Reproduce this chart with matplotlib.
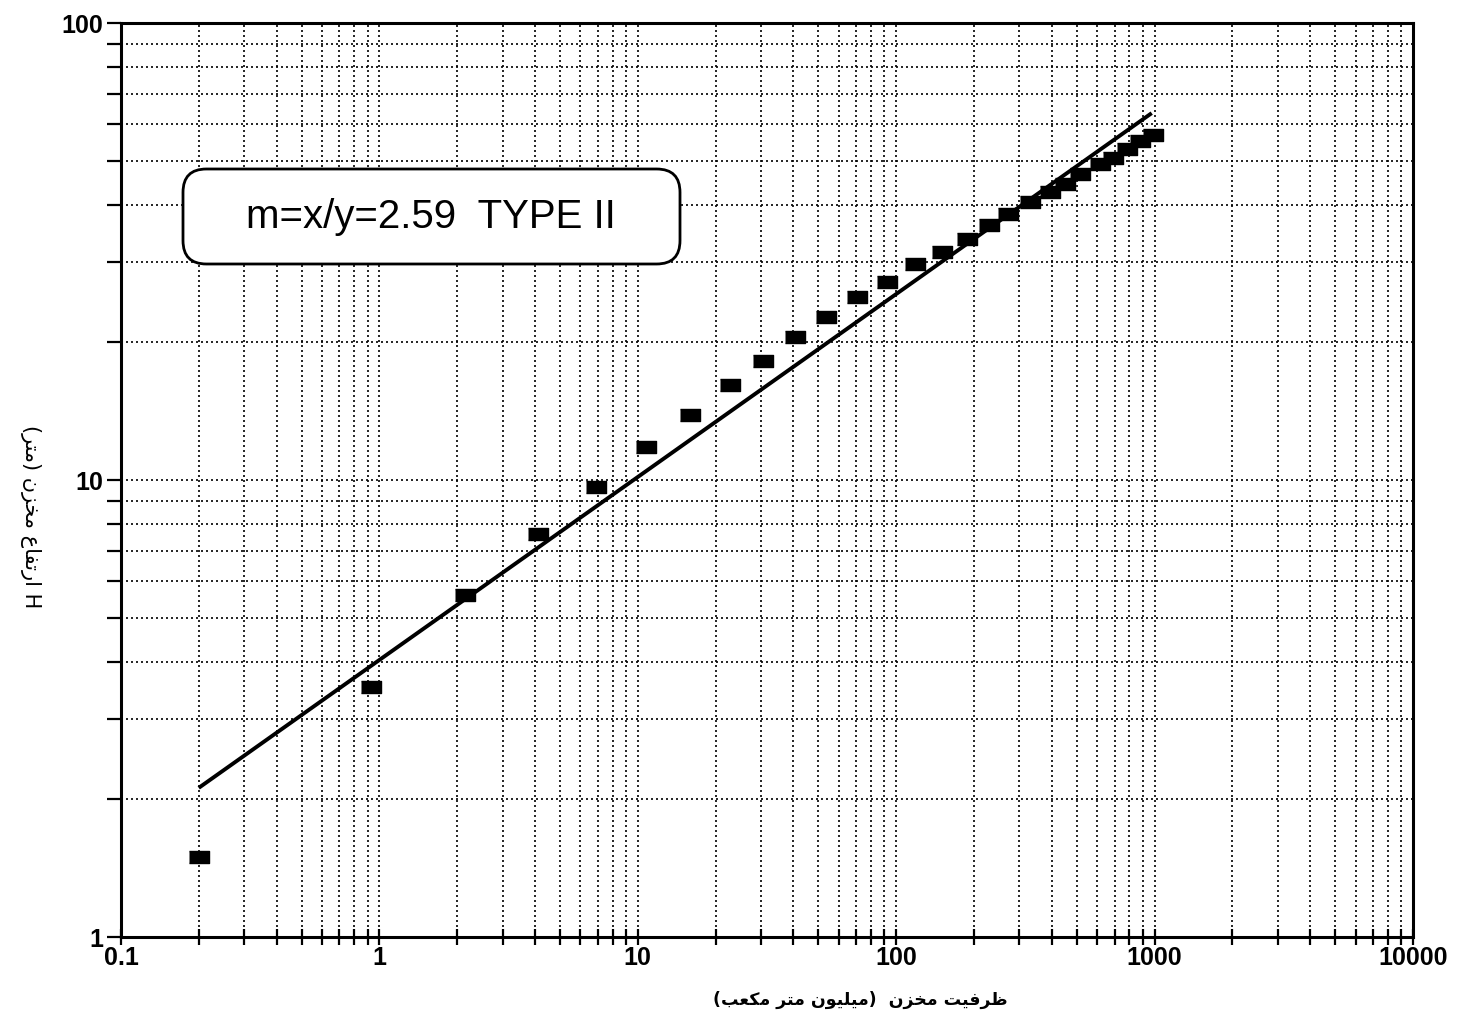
import matplotlib.pyplot as plt
from matplotlib.ticker import LogLocator, NullFormatter, FixedFormatter, FixedLocator
from matplotlib.patches import FancyBboxPatch

# reservoir capacity (million m3) vs reservoir height H (m)
capacity = [0.2, 0.93, 2.14, 4.1, 6.9, 10.8, 15.9, 22.7, 30.5, 40.6, 53.5,
            70.5, 92, 118, 150, 188, 229, 271, 330, 394, 450, 514, 615,
            690, 782, 879, 986]
height = [1.50, 3.52, 5.6, 7.6, 9.65, 11.8, 13.9, 16.1, 18.2, 20.6, 22.7,
          25.1, 27.1, 29.7, 31.5, 33.7, 36.1, 38.2, 40.6, 42.7, 44.4, 46.7,
          49.1, 50.6, 53.0, 55.2, 56.9]

# fitted line end points
fit_x = [0.2, 975]
fit_y = [2.12, 63.5]

x_ticks = [0.1, 1, 10, 100, 1000, 10000]
x_labels = ['0.1', '1', '10', '100', '1000', '10000']
y_ticks = [1, 10, 100]
y_labels = ['1', '10', '100']

box_text = 'm=x/y=2.59  TYPE II'
xlabel_text = 'ظرفیت مخزن  (میلیون متر مکعب)'
ylabel_text = 'H ارتفاع مخزن (متر)'

# arabic presentation forms (isolated, final, initial, medial)
FORMS = {
    'ا': ('\uFE8D', '\uFE8E', None, None),
    'ب': ('\uFE8F', '\uFE90', '\uFE91', '\uFE92'),
    'ت': ('\uFE95', '\uFE96', '\uFE97', '\uFE98'),
    'خ': ('\uFEA5', '\uFEA6', '\uFEA7', '\uFEA8'),
    'ر': ('\uFEAD', '\uFEAE', None, None),
    'ز': ('\uFEAF', '\uFEB0', None, None),
    'ظ': ('\uFEC5', '\uFEC6', '\uFEC7', '\uFEC8'),
    'ع': ('\uFEC9', '\uFECA', '\uFECB', '\uFECC'),
    'ف': ('\uFED1', '\uFED2', '\uFED3', '\uFED4'),
    'ل': ('\uFEDD', '\uFEDE', '\uFEDF', '\uFEE0'),
    'م': ('\uFEE1', '\uFEE2', '\uFEE3', '\uFEE4'),
    'ن': ('\uFEE5', '\uFEE6', '\uFEE7', '\uFEE8'),
    'و': ('\uFEED', '\uFEEE', None, None),
    'ی': ('\uFBFC', '\uFBFD', '\uFBFE', '\uFBFF'),
    'ک': ('\uFB8E', '\uFB8F', '\uFB90', '\uFB91'),
}
MIRROR = {'(': ')', ')': '('}


def to_visual(text):
    # join the letters, then lay the right-to-left line out left to right
    out = []
    for i, c in enumerate(text):
        if c not in FORMS:
            out.append(MIRROR.get(c, c))
            continue
        prev = text[i - 1] if i > 0 else None
        nxt = text[i + 1] if i + 1 < len(text) else None
        jp = prev in FORMS and FORMS[prev][2] is not None
        jn = nxt in FORMS and FORMS[c][2] is not None
        iso, fin, ini, med = FORMS[c]
        if jp and jn:
            out.append(med)
        elif jp:
            out.append(fin)
        elif jn:
            out.append(ini)
        else:
            out.append(iso)
    return ''.join(reversed(out))


fig = plt.figure(figsize=(14.61, 10.2), dpi=100)
ax = fig.add_axes([0.0828, 0.0804, 0.8843, 0.8961])

ax.set_xscale('log')
ax.set_yscale('log')
ax.set_xlim(0.1, 10000)
ax.set_ylim(1, 100)

ax.plot(fit_x, fit_y, '-k', lw=2.8, solid_capstyle='butt', zorder=4)
ax.plot(capacity, height, ls='none', color='k', zorder=5,
        marker=[(-1, -0.6), (1, -0.6), (1, 0.6), (-1, 0.6)], markersize=14.5)

ax.xaxis.set_major_locator(FixedLocator(x_ticks))
ax.xaxis.set_major_formatter(FixedFormatter(x_labels))
ax.yaxis.set_major_locator(FixedLocator(y_ticks))
ax.yaxis.set_major_formatter(FixedFormatter(y_labels))
ax.xaxis.set_minor_locator(LogLocator(base=10, subs=range(2, 10)))
ax.yaxis.set_minor_locator(LogLocator(base=10, subs=range(2, 10)))
ax.xaxis.set_minor_formatter(NullFormatter())
ax.yaxis.set_minor_formatter(NullFormatter())

ax.grid(True, which='both', ls=(0, (1.2, 1.8)), color='k', lw=1.2)
ax.set_axisbelow(True)

for s in ax.spines.values():
    s.set_linewidth(2.2)

ax.tick_params(axis='x', which='both', direction='inout', length=12, width=1.6,
               pad=0)
ax.tick_params(axis='y', which='both', direction='out', length=10, width=1.6,
               pad=3)
for lab in ax.get_xticklabels() + ax.get_yticklabels():
    lab.set_fontfamily('Liberation Sans')
    lab.set_fontweight('bold')
    lab.set_fontsize(18)

# legend style box
box = FancyBboxPatch((183 / 1461, 1 - 265 / 1020), 497 / 1461, 95 / 1020,
                     boxstyle='round,pad=0,rounding_size=0.016',
                     mutation_aspect=1461 / 1020, transform=fig.transFigure,
                     facecolor='white', edgecolor='k', lw=2.0, zorder=6)
fig.patches.append(box)
fig.text(431 / 1461, 1 - 217 / 1020, box_text, ha='center', va='center',
         fontsize=29, family='Liberation Sans', zorder=7)

fig.text(860 / 1461, 1 - 1000 / 1020, to_visual(xlabel_text), ha='center',
         va='center', fontsize=12.5, fontweight='bold', family='DejaVu Sans')
fig.text(30 / 1461, 1 - 517 / 1020, to_visual(ylabel_text), ha='center',
         va='center', rotation=-90, fontsize=15, family='DejaVu Sans')

fig.savefig('out.png', dpi=100)
